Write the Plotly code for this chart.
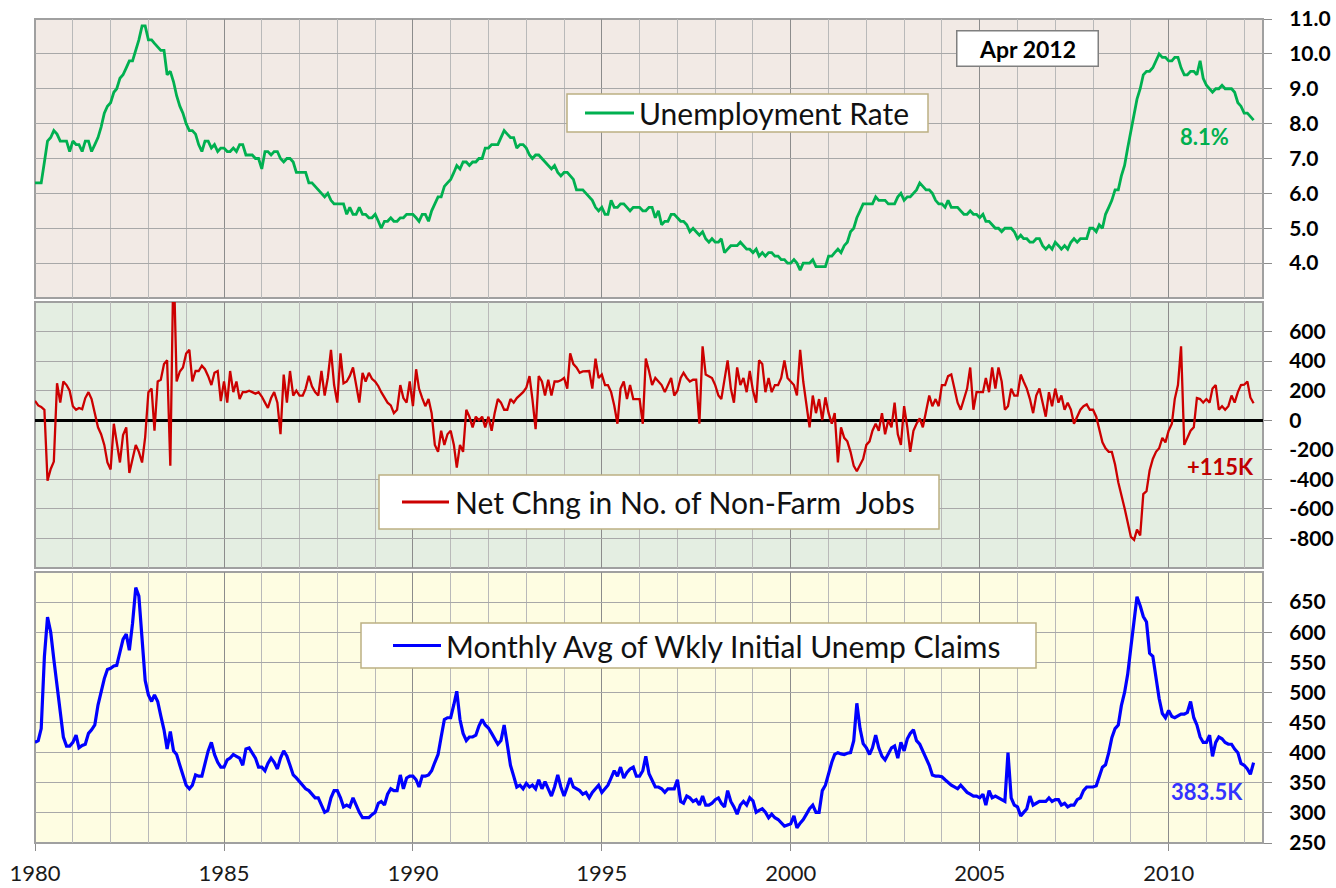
import pandas as pd
import plotly.graph_objects as go

# ---------------- data (monthly, Jan 1980 - Apr 2012) ----------------
start_month = "1980-01-01"

unemployment_rate = [
    6.3, 6.3, 6.3, 6.9, 7.5, 7.6, 7.8, 7.7, 7.5, 7.5, 7.5, 7.2,      # 1980
    7.5, 7.4, 7.4, 7.2, 7.5, 7.5, 7.2, 7.4, 7.6, 7.9, 8.3, 8.5,      # 1981
    8.6, 8.9, 9.0, 9.3, 9.4, 9.6, 9.8, 9.8, 10.1, 10.4, 10.8, 10.8,  # 1982
    10.4, 10.4, 10.3, 10.2, 10.1, 10.1, 9.4, 9.5, 9.2, 8.8, 8.5, 8.3,# 1983
    8.0, 7.8, 7.8, 7.7, 7.4, 7.2, 7.5, 7.5, 7.3, 7.4, 7.2, 7.3,      # 1984
    7.3, 7.2, 7.2, 7.3, 7.2, 7.4, 7.4, 7.1, 7.1, 7.1, 7.0, 7.0,      # 1985
    6.7, 7.2, 7.2, 7.1, 7.2, 7.2, 7.0, 6.9, 7.0, 7.0, 6.9, 6.6,      # 1986
    6.6, 6.6, 6.6, 6.3, 6.3, 6.2, 6.1, 6.0, 5.9, 6.0, 5.8, 5.7,      # 1987
    5.7, 5.7, 5.7, 5.4, 5.6, 5.4, 5.4, 5.6, 5.4, 5.4, 5.3, 5.3,      # 1988
    5.4, 5.2, 5.0, 5.2, 5.2, 5.3, 5.2, 5.2, 5.3, 5.3, 5.4, 5.4,      # 1989
    5.4, 5.3, 5.2, 5.4, 5.4, 5.2, 5.5, 5.7, 5.9, 5.9, 6.2, 6.3,      # 1990
    6.4, 6.6, 6.8, 6.7, 6.9, 6.9, 6.8, 6.9, 6.9, 7.0, 7.0, 7.3,      # 1991
    7.3, 7.4, 7.4, 7.4, 7.6, 7.8, 7.7, 7.6, 7.6, 7.3, 7.4, 7.4,      # 1992
    7.3, 7.1, 7.0, 7.1, 7.1, 7.0, 6.9, 6.8, 6.7, 6.8, 6.6, 6.5,      # 1993
    6.6, 6.6, 6.5, 6.4, 6.1, 6.1, 6.1, 6.0, 5.9, 5.8, 5.6, 5.5,      # 1994
    5.6, 5.4, 5.4, 5.8, 5.6, 5.6, 5.7, 5.7, 5.6, 5.5, 5.6, 5.6,      # 1995
    5.6, 5.5, 5.5, 5.6, 5.6, 5.3, 5.5, 5.1, 5.2, 5.2, 5.4, 5.4,      # 1996
    5.3, 5.2, 5.2, 5.1, 4.9, 5.0, 4.9, 4.8, 4.9, 4.7, 4.6, 4.7,      # 1997
    4.6, 4.6, 4.7, 4.3, 4.4, 4.5, 4.5, 4.5, 4.6, 4.5, 4.4, 4.4,      # 1998
    4.3, 4.4, 4.2, 4.3, 4.2, 4.3, 4.3, 4.2, 4.2, 4.1, 4.1, 4.0,      # 1999
    4.0, 4.1, 4.0, 3.8, 4.0, 4.0, 4.0, 4.1, 3.9, 3.9, 3.9, 3.9,      # 2000
    4.2, 4.2, 4.3, 4.4, 4.3, 4.5, 4.6, 4.9, 5.0, 5.3, 5.5, 5.7,      # 2001
    5.7, 5.7, 5.7, 5.9, 5.8, 5.8, 5.8, 5.7, 5.7, 5.7, 5.9, 6.0,      # 2002
    5.8, 5.9, 5.9, 6.0, 6.1, 6.3, 6.2, 6.1, 6.1, 6.0, 5.8, 5.7,      # 2003
    5.7, 5.6, 5.8, 5.6, 5.6, 5.6, 5.5, 5.4, 5.4, 5.5, 5.4, 5.4,      # 2004
    5.3, 5.4, 5.2, 5.2, 5.1, 5.0, 5.0, 4.9, 5.0, 5.0, 5.0, 4.9,      # 2005
    4.7, 4.8, 4.7, 4.7, 4.6, 4.6, 4.7, 4.7, 4.5, 4.4, 4.5, 4.4,      # 2006
    4.6, 4.5, 4.4, 4.5, 4.4, 4.6, 4.7, 4.6, 4.7, 4.7, 4.7, 5.0,      # 2007
    5.0, 4.9, 5.1, 5.0, 5.4, 5.6, 5.8, 6.1, 6.1, 6.5, 6.8, 7.3,      # 2008
    7.8, 8.3, 8.7, 9.0, 9.4, 9.5, 9.5, 9.6, 9.8, 10.0, 9.9, 9.9,     # 2009
    9.8, 9.8, 9.9, 9.9, 9.6, 9.4, 9.4, 9.5, 9.5, 9.4, 9.8, 9.3,      # 2010
    9.1, 9.0, 8.9, 9.0, 9.0, 9.1, 9.0, 9.0, 9.0, 8.9, 8.6, 8.5,      # 2011
    8.3, 8.3, 8.2, 8.1,                                              # 2012
]

payroll_change = [
    131, 100, 90, 70, -410, -330, -280, 250, 120, 262, 238, 200,       # 1980
    95, 71, 83, 75, 150, 190, 143, 40, -48, -95, -167, -286,          # 1981
    -333, -24, -150, -286, -100, -48, -357, -250, -167, -214, -286, -114,  # 1982
    190, 214, -71, 262, 274, 381, 405, -308, 1114, 262, 330, 357,     # 1983
    452, 476, 262, 333, 333, 369, 345, 298, 238, 321, 333, 130,       # 1984
    262, 119, 333, 190, 262, 143, 190, 190, 200, 190, 180, 190,       # 1985
    160, 119, 83, 150, 190, 119, -95, 309, 119, 333, 167, 200,        # 1986
    167, 167, 214, 300, 230, 190, 167, 333, 167, 286, 476, 240,       # 1987
    119, 452, 250, 262, 300, 357, 238, 119, 321, 262, 321, 280,       # 1988
    262, 230, 190, 150, 119, 100, 48, 71, 238, 150, 119, 262,         # 1989
    95, 345, 214, 150, 95, 143, 48, -167, -214, -71, -167, -95,       # 1990
    -71, -167, -321, -167, -214, 71, 24, -48, 24, 0, 24, -48,         # 1991
    24, -71, 48, 143, 119, 71, 71, 143, 119, 150, 167, 190,           # 1992
    220, 298, 143, -60, 298, 262, 167, 274, 167, 262, 262, 270,       # 1993
    286, 214, 452, 380, 357, 321, 330, 333, 333, 214, 417, 286,       # 1994
    309, 238, 238, 190, 100, -24, 214, 262, 143, 238, 143, 143,       # 1995
    143, -24, 417, 333, 238, 286, 260, 238, 190, 238, 286, 167,       # 1996
    200, 286, 321, 286, 262, 274, 274, -24, 500, 309, 300, 286,       # 1997
    238, 167, 143, 286, 405, 214, 119, 357, 238, 286, 190, 333,       # 1998
    200, 119, 405, 381, 190, 286, 190, 238, 238, 286, 405, 286,       # 1999
    260, 238, 167, 476, 262, 119, -48, 167, 48, 143, 0, 155,          # 2000
    48, -24, 48, -286, -48, -119, -143, -214, -309, -345, -300, -262, # 2001
    -167, -143, -71, -24, -71, 48, -95, 0, -48, 119, -95, -167,       # 2002
    95, -48, -214, -71, -24, 12, -48, 71, 167, 95, 143, 95,           # 2003
    238, 238, 298, 309, 214, 119, 71, 143, 214, 357, 71, 190,         # 2004
    190, 190, 286, 190, 357, 214, 357, 262, 71, 95, 214, 167,         # 2005
    167, 309, 262, 214, 143, 48, 167, 214, 119, 24, 190, 95,          # 2006
    214, 119, 167, 71, 119, 71, -24, 24, 71, 95, 107, 71,             # 2007
    71, 24, -71, -150, -190, -214, -214, -300, -420, -500, -595, -690,     # 2008
    -790, -810, -740, -780, -500, -480, -340, -262, -214, -190, -119, -150,  # 2009
    -71, -24, 143, 238, 500, -167, -120, -71, -48, 150, 143, 119,     # 2010
    143, 119, 214, 238, 71, 95, 71, 95, 167, 119, 190, 238,           # 2011
    240, 262, 154, 115,                                               # 2012
]

initial_claims = [
    417, 420, 440, 560, 625, 600, 555, 510, 470, 426, 411, 411,       # 1980
    417, 429, 408, 412, 414, 432, 438, 446, 479, 502, 523, 538,       # 1981
    540, 544, 545, 567, 588, 597, 570, 615, 674, 660, 590, 520,       # 1982
    496, 485, 496, 485, 461, 438, 406, 435, 403, 397, 379, 363,       # 1983
    346, 340, 346, 363, 361, 361, 384, 403, 417, 397, 384, 376,       # 1984
    376, 388, 391, 397, 394, 391, 379, 406, 408, 400, 391, 376,       # 1985
    376, 370, 382, 391, 384, 373, 391, 403, 394, 379, 363, 358,       # 1986
    352, 346, 340, 337, 331, 325, 325, 313, 301, 304, 325, 337,       # 1987
    337, 325, 310, 313, 310, 325, 313, 301, 292, 292, 292, 297,       # 1988
    301, 316, 319, 313, 331, 340, 337, 337, 363, 340, 358, 361,       # 1989
    361, 355, 343, 361, 361, 363, 370, 384, 397, 426, 455, 458,       # 1990
    458, 480, 502, 455, 432, 420, 426, 426, 429, 444, 455, 446,       # 1991
    441, 432, 423, 414, 420, 446, 414, 379, 361, 343, 346, 340,       # 1992
    349, 343, 346, 340, 355, 340, 352, 340, 328, 343, 363, 343,       # 1993
    328, 343, 358, 343, 340, 337, 331, 334, 325, 334, 340, 346,       # 1994
    334, 340, 346, 358, 370, 361, 376, 358, 367, 373, 376, 361,       # 1995
    361, 370, 394, 365, 355, 343, 343, 340, 334, 340, 340, 340,       # 1996
    355, 319, 316, 328, 325, 319, 322, 313, 328, 313, 313, 316,       # 1997
    322, 325, 316, 310, 337, 319, 310, 298, 313, 319, 313, 325,       # 1998
    320, 301, 304, 307, 301, 292, 298, 292, 289, 283, 278, 280,       # 1999
    282, 295, 275, 283, 289, 298, 307, 313, 301, 301, 337, 346,       # 2000
    367, 384, 397, 400, 398, 397, 399, 400, 420, 482, 440, 415,       # 2001
    408, 397, 408, 429, 408, 394, 388, 397, 408, 411, 391, 417,       # 2002
    403, 423, 432, 438, 420, 414, 403, 391, 379, 363, 361, 361,       # 2003
    360, 355, 350, 346, 343, 340, 346, 340, 334, 331, 328, 328,       # 2004
    325, 331, 313, 337, 325, 328, 325, 322, 319, 400, 325, 313,       # 2005
    310, 295, 301, 307, 328, 313, 316, 319, 319, 319, 325, 319,       # 2006
    322, 322, 313, 316, 310, 313, 313, 322, 325, 337, 343, 343,       # 2007
    343, 345, 360, 376, 380, 400, 425, 440, 446, 478, 500, 530,       # 2008
    575, 625, 659, 644, 626, 617, 565, 560, 520, 490, 465, 458,       # 2009
    470, 460, 458, 461, 464, 464, 467, 485, 458, 446, 426, 417,       # 2010
    417, 429, 394, 417, 426, 423, 417, 414, 414, 406, 400, 382,       # 2011
    379, 373, 364, 383.5,                                             # 2012
]

unemp_ticks = [4, 5, 6, 7, 8, 9, 10, 11]
payroll_ticks = [-800, -600, -400, -200, 0, 200, 400, 600]
claims_ticks = [250, 300, 350, 400, 450, 500, 550, 600, 650]
series_names = ["Unemployment Rate",
                "Net Chng in No. of Non-Farm\u00a0 Jobs",
                "Monthly Avg of Wkly Initial Unemp Claims"]
series_colors = ["#00b050", "#cc0000", "#0000ff"]
latest_label = "Apr 2012"

months = pd.date_range(start_month, periods=len(unemployment_rate), freq="MS")

# ---------------- styling ----------------
FONT = "Lato"
GRID_MINOR = "#b9b9b9"
GRID_MAJOR = "#8c8c8c"
GRID_H = "#a8a8a8"
BORDER = "#a0a0a0"

W, H = 1336, 888
ML, MR, MT, MB = 35, 73, 19, 45
PW = W - ML - MR
PH = H - MT - MB


def ydom(top_px, bottom_px):
    return [(H - MB - bottom_px) / PH, (H - MB - top_px) / PH]


def px(x_px, y_px):
    return (x_px - ML) / PW, (H - MB - y_px) / PH


fig = go.Figure()

fig.add_trace(go.Scatter(
    x=months, y=unemployment_rate, mode="lines", name=series_names[0],
    line=dict(color=series_colors[0], width=2.8), xaxis="x", yaxis="y",
))
fig.add_trace(go.Scatter(
    x=months, y=payroll_change, mode="lines", name=series_names[1],
    line=dict(color=series_colors[1], width=2.3), xaxis="x2", yaxis="y2",
))
fig.add_trace(go.Scatter(
    x=months, y=initial_claims, mode="lines", name=series_names[2],
    line=dict(color=series_colors[2], width=3.2), xaxis="x3", yaxis="y3",
))

xcommon = dict(
    type="date", range=["1980-01-01", "2012-07-01"], domain=[0, 1],
    dtick="M60", tick0="1980-01-01", automargin=False,
    showgrid=True, gridcolor=GRID_MAJOR, gridwidth=1.3,
    minor=dict(dtick="M12", showgrid=True, gridcolor=GRID_MINOR, gridwidth=1.3),
    zeroline=False, showline=False, fixedrange=True,
)

ycommon = dict(
    side="right", showgrid=True, gridcolor=GRID_H, gridwidth=1.3, automargin=False,
    ticks="outside", ticklen=8, tickcolor=GRID_MAJOR, tickwidth=1.3,
    tickfont=dict(family=FONT, size=21, color="black", weight="bold"),
    ticklabelstandoff=13, showline=False, fixedrange=True,
)

layout = dict(
    width=W, height=H, autosize=False,
    margin=dict(l=ML, r=MR, t=MT, b=MB, autoexpand=False),
    paper_bgcolor="white", plot_bgcolor="white",
    font=dict(family=FONT, color="black"),
    showlegend=False,
    xaxis=dict(**xcommon, anchor="y", showticklabels=False, ticks=""),
    xaxis2=dict(**xcommon, anchor="y2", matches="x", showticklabels=False, ticks=""),
    xaxis3=dict(**xcommon, anchor="y3", matches="x", ticks="outside", ticklen=7,
                tickcolor=GRID_MAJOR, tickwidth=1.3, tickformat="%Y",
                tickfont=dict(family=FONT, size=22, color="#1a1a1a"),
                ticklabelstandoff=4),
    yaxis=dict(**ycommon, domain=ydom(19, 298), anchor="x", range=[3, 11],
               tickvals=unemp_ticks, ticktext=[f"{v:.1f}" for v in unemp_ticks],
               zeroline=False),
    yaxis2=dict(**ycommon, domain=ydom(302, 568), anchor="x2", range=[-1000, 800],
                tickvals=payroll_ticks, ticktext=[str(v) for v in payroll_ticks],
                zeroline=True, zerolinecolor="black", zerolinewidth=3),
    yaxis3=dict(**ycommon, domain=ydom(572, 843), anchor="x3", range=[250, 700],
                tickvals=claims_ticks, ticktext=[str(v) for v in claims_ticks],
                zeroline=False),
)
fig.update_layout(**layout)

# panel backgrounds and borders
panel_fills = [("x", "y", "#f2eae5"), ("x2", "y2", "#e4eee2"), ("x3", "y3", "#fefde2")]
for xref, yref, fill in panel_fills:
    fig.add_shape(type="rect", xref=f"{xref} domain", yref=f"{yref} domain",
                  x0=0, x1=1, y0=0, y1=1, fillcolor=fill,
                  line=dict(color=BORDER, width=2), layer="below")

# legend boxes (box, line sample, label), positioned in pixels of the page
legend_boxes = [
    # box left, top, right, bottom, sample x0, sample x1, text x
    (567, 94, 928, 132, 585, 634, 637),
    (379, 475, 939, 529, 402, 449, 453),
    (361, 623, 1036, 668, 393, 441, 444),
]
for (bl, bt, br, bb, s0, s1, tx), name, color in zip(legend_boxes, series_names, series_colors):
    x0, y0 = px(bl, bb)
    x1, y1 = px(br, bt)
    fig.add_shape(type="rect", xref="paper", yref="paper", x0=x0, x1=x1, y0=y0, y1=y1,
                  fillcolor="white", line=dict(color="#bcb083", width=1.5), layer="above")
    ymid = (bt + bb) / 2
    lx0, ly = px(s0, ymid)
    lx1, _ = px(s1, ymid)
    fig.add_shape(type="line", xref="paper", yref="paper", x0=lx0, x1=lx1, y0=ly, y1=ly,
                  line=dict(color=color, width=3), layer="above")
    tx_p, ty_p = px(tx, ymid)
    fig.add_annotation(xref="paper", yref="paper", x=tx_p, y=ty_p, text=name,
                       xanchor="left", yanchor="middle", showarrow=False,
                       font=dict(family=FONT, size=30, color="#111111"))

# date stamp box
ax, ay = px(1027, 49)
fig.add_annotation(xref="paper", yref="paper", x=ax, y=ay, text=latest_label,
                   xanchor="center", yanchor="middle", showarrow=False,
                   font=dict(family=FONT, size=23, color="black", weight="bold"),
                   bgcolor="white", bordercolor="#7f7f7f", borderwidth=1.5,
                   width=138, height=32, borderpad=1)

# latest-value labels
fig.add_annotation(xref="x", yref="y", x="2010-12-15", y=7.62,
                   xanchor="center", yanchor="middle",
                   text=f"{unemployment_rate[-1]:.1f}%", showarrow=False,
                   font=dict(family=FONT, size=22, color="#00b050", weight="bold"))
fig.add_annotation(xref="x2", yref="y2", x="2011-05-15", y=-310,
                   xanchor="center", yanchor="middle",
                   text=f"+{payroll_change[-1]}K", showarrow=False,
                   font=dict(family=FONT, size=22, color="#c00000", weight="bold"))
fig.add_annotation(xref="x3", yref="y3", x="2011-01-10", y=335,
                   xanchor="center", yanchor="middle",
                   text=f"{initial_claims[-1]}K", showarrow=False,
                   font=dict(family=FONT, size=22, color="#3333ff", weight="bold"))

fig.write_html("out.html", include_plotlyjs=True,
               config={"displayModeBar": False},
               post_script="document.body.style.margin='0';document.body.style.overflow='hidden';")
